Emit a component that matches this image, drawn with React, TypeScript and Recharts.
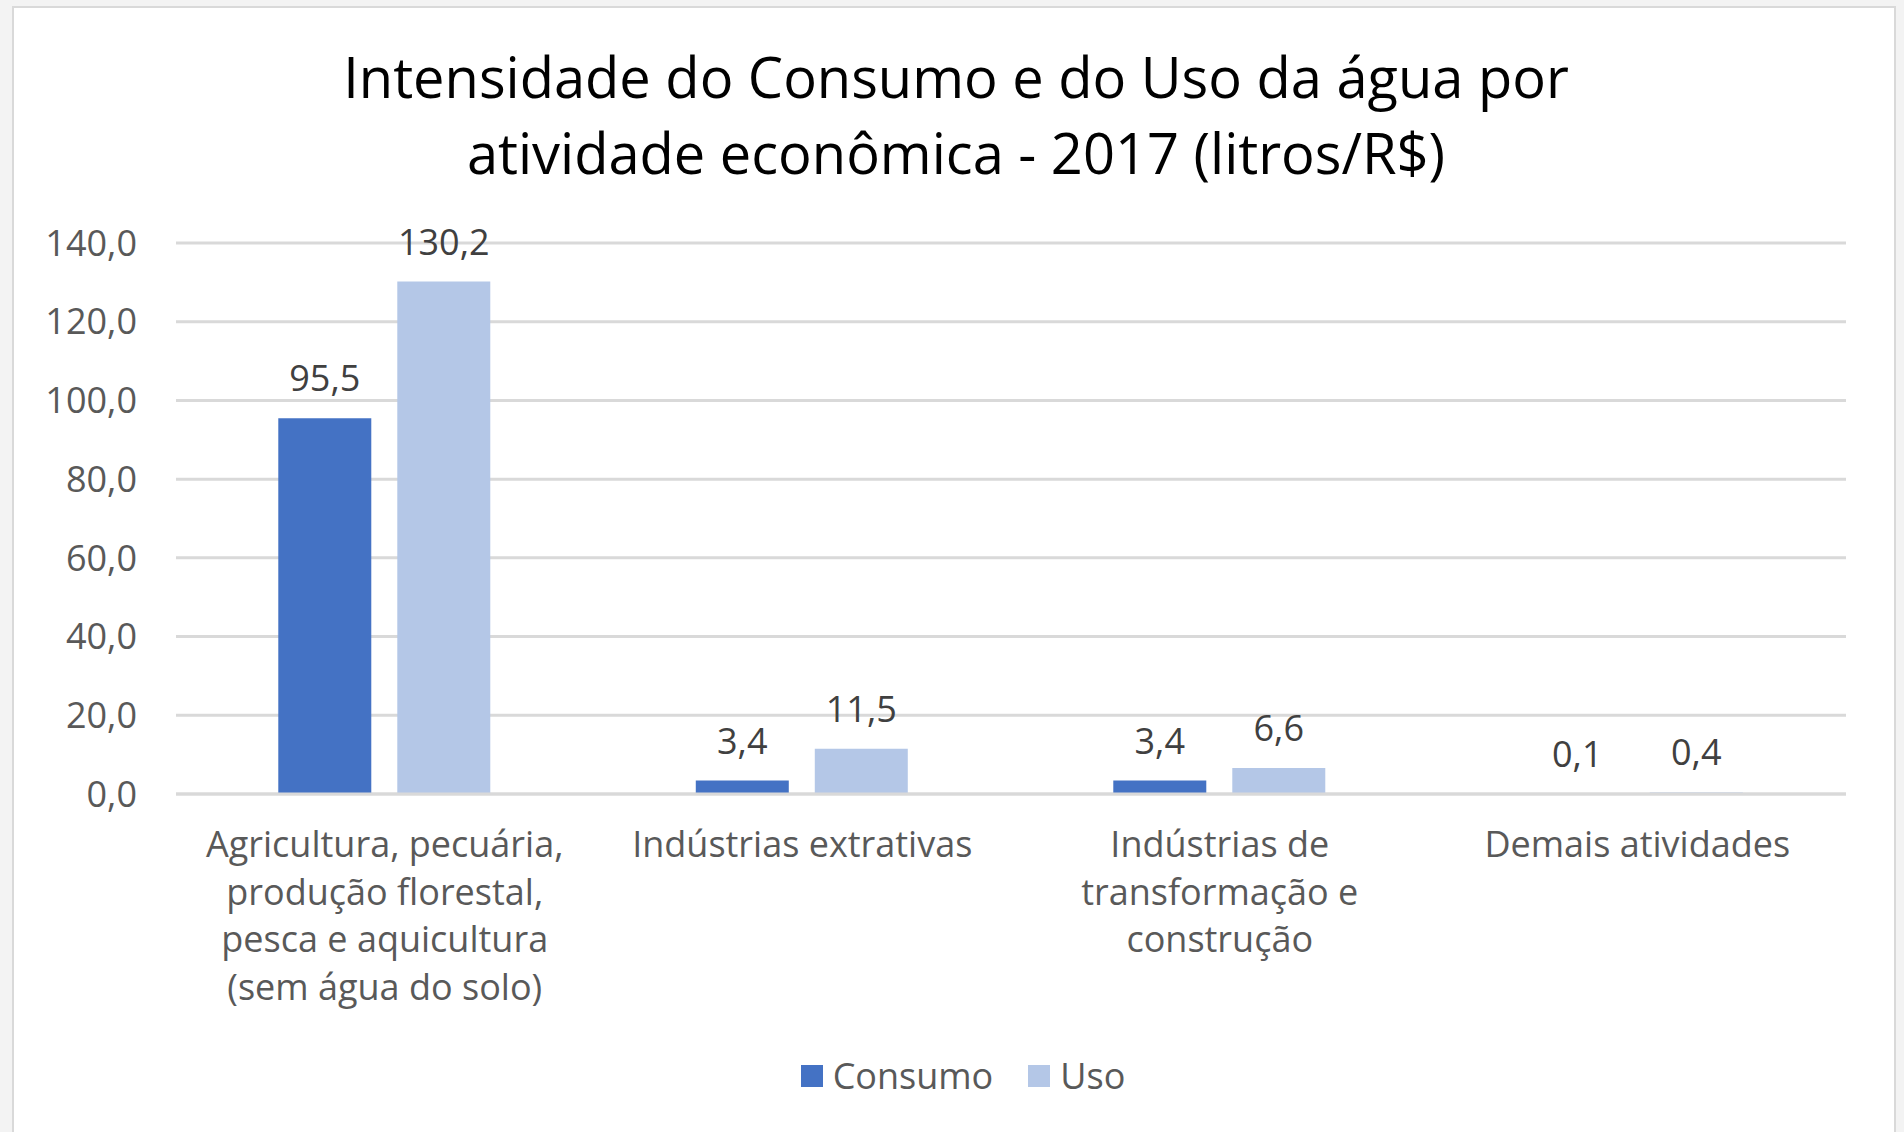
import React from 'react';
import { BarChart, Bar, XAxis, YAxis, CartesianGrid, Legend, LabelList } from 'recharts';

const categories = [
  'Agricultura, pecuária,\nprodução florestal,\npesca e aquicultura\n(sem água do solo)',
  'Indústrias extrativas',
  'Indústrias de\ntransformação e\nconstrução',
  'Demais atividades',
];
const consumo = [95.5, 3.4, 3.4, 0.1];
const uso = [130.2, 11.5, 6.6, 0.4];
const yTicks = [0, 20, 40, 60, 80, 100, 120, 140];

const data = categories.map((name, i) => ({ name, consumo: consumo[i], uso: uso[i] }));

const FONT = '"Open Sans", sans-serif';
const fmt = (v: number) => v.toFixed(1).replace('.', ',');

const CategoryTick = (props: any) => {
  const { x, y, payload } = props;
  const lines = String(payload.value).split('\n');
  return (
    <text x={x} y={y} textAnchor="middle" fill="#595959" fontSize={36} fontFamily={FONT}>
      {lines.map((l, i) => (
        <tspan key={i} x={x} dy={i === 0 ? 55 : 47.5}>
          {l}
        </tspan>
      ))}
    </text>
  );
};

const LegendContent = () => (
  <div
    style={{
      display: 'flex',
      justifyContent: 'center',
      alignItems: 'center',
      paddingLeft: 80,
      fontFamily: FONT,
      fontSize: 36,
      color: '#595959',
    }}
  >
    <span style={{ width: 22, height: 22, background: '#4472c4', display: 'inline-block', marginRight: 10 }} />
    <span style={{ marginRight: 35 }}>Consumo</span>
    <span style={{ width: 22, height: 22, background: '#b4c7e7', display: 'inline-block', marginRight: 10 }} />
    <span>Uso</span>
  </div>
);

const App: React.FC = () => {
  return (
    <div style={{ position: 'absolute', left: 0, top: 0, width: 1904, height: 1132, background: '#f3f3f3' }}>
      <div
        style={{
          position: 'absolute',
          left: 12,
          top: 6,
          width: 1884,
          height: 1130,
          background: '#ffffff',
          border: '2px solid #d9d9d9',
          boxSizing: 'border-box',
        }}
      />
      <div
        style={{
          position: 'absolute',
          left: 0,
          top: 38,
          width: 1912,
          textAlign: 'center',
          fontFamily: FONT,
          fontSize: 56,
          lineHeight: '76px',
          color: '#000000',
        }}
      >
        Intensidade do Consumo e do Uso da água por
        <br />
        atividade econômica - 2017 (litros/R$)
      </div>
      <div style={{ position: 'absolute', left: 0, top: 0 }}>
        <BarChart
          width={1904}
          height={1132}
          data={data}
          margin={{ top: 243, right: 58, left: 0, bottom: 89 }}
          barCategoryGap="24.5%"
          barGap={26}
        >
          <CartesianGrid vertical={false} stroke="#d9d9d9" strokeWidth={3} />
          <XAxis
            dataKey="name"
            axisLine={{ stroke: '#d9d9d9', strokeWidth: 3 }}
            tickLine={false}
            interval={0}
            height={200}
            tick={<CategoryTick />}
          />
          <YAxis
            domain={[0, 140]}
            ticks={yTicks}
            width={176}
            axisLine={false}
            tickLine={false}
            tickSize={0}
            tickMargin={39}
            tickFormatter={fmt}
            tick={{ fill: '#595959', fontSize: 36, fontFamily: FONT }}
          />
          <Legend verticalAlign="bottom" content={<LegendContent />} wrapperStyle={{ bottom: 32 }} />
          <Bar dataKey="consumo" name="Consumo" fill="#4472c4" isAnimationActive={false}>
            <LabelList dataKey="consumo" position="top" offset={27} formatter={fmt} fill="#404040" fontSize={36} fontFamily={FONT} />
          </Bar>
          <Bar dataKey="uso" name="Uso" fill="#b4c7e7" isAnimationActive={false}>
            <LabelList dataKey="uso" position="top" offset={27} formatter={fmt} fill="#404040" fontSize={36} fontFamily={FONT} />
          </Bar>
        </BarChart>
      </div>
    </div>
  );
};

export default App;
